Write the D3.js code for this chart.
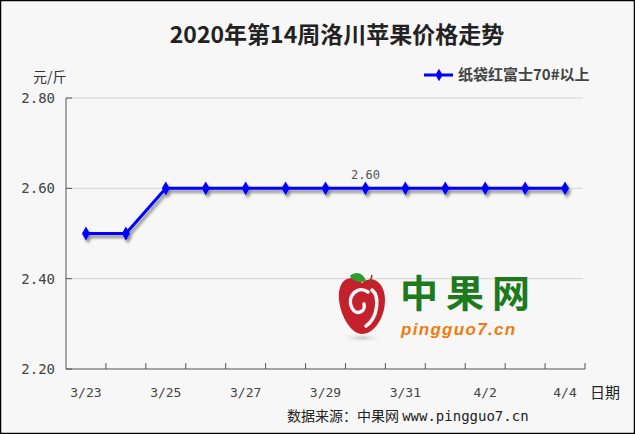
<!DOCTYPE html>
<html><head><meta charset="utf-8">
<script src="https://cdn.jsdelivr.net/npm/d3@7"></script>
<style>
html,body{margin:0;padding:0;background:#fff;}
svg{display:block;}
</style></head>
<body>
<svg id="c" width="635" height="434"></svg>
<script>
const categories = ["3/23","3/24","3/25","3/26","3/27","3/28","3/29","3/30","3/31","4/1","4/2","4/3","4/4"];
const values = [2.50,2.50,2.60,2.60,2.60,2.60,2.60,2.60,2.60,2.60,2.60,2.60,2.60];
const yTicks = [2.20,2.40,2.60,2.80];
const xLabels = ["3/23","3/25","3/27","3/29","3/31","4/2","4/4"];
const seriesName = "纸袋红富士70#以上";
const labelIndex = 7;

const W=635,H=434;
const svg=d3.select("#c");
const cjk='"Noto Sans CJK SC","Noto Sans",sans-serif';
const mono='"DejaVu Sans Mono","Liberation Mono",monospace';

const defs=svg.append("defs");
const f=defs.append("filter").attr("id","sh").attr("x","-10%").attr("y","-50%").attr("width","130%").attr("height","200%");
f.append("feGaussianBlur").attr("in","SourceAlpha").attr("stdDeviation",1.4).attr("result","b");
f.append("feOffset").attr("in","b").attr("dx",2).attr("dy",3).attr("result","o");
f.append("feComponentTransfer").attr("in","o").attr("result","o2").append("feFuncA").attr("type","linear").attr("slope",0.45);
const fm=f.append("feMerge");fm.append("feMergeNode").attr("in","o2");fm.append("feMergeNode").attr("in","SourceGraphic");
const rg=defs.append("radialGradient").attr("id","lg");
rg.append("stop").attr("offset","0%").attr("stop-color","#bbb").attr("stop-opacity",0.8);
rg.append("stop").attr("offset","100%").attr("stop-color","#f7f7f7").attr("stop-opacity",0);

svg.append("rect").attr("x",0.5).attr("y",0.5).attr("width",W-1).attr("height",H-1).attr("fill","#f7f7f7").attr("stroke","#000").attr("stroke-width",1.5);

const m={l:66,r:585,t:98,b:369};
const x=d3.scaleBand().domain(categories).range([m.l,m.r]);
const y=d3.scaleLinear().domain([2.2,2.8]).range([m.b,m.t]);

// title
svg.append("text").attr("x",337).attr("y",43).attr("text-anchor","middle").attr("font-family",cjk).attr("font-weight","bold").attr("font-size",23).attr("fill","#222").text("2020年第14周洛川苹果价格走势");

// gridlines
svg.append("g").selectAll("line").data(yTicks.filter(d=>d>2.2)).join("line")
 .attr("x1",m.l).attr("x2",583).attr("y1",d=>y(d)).attr("y2",d=>y(d)).attr("stroke","#d4d4d4").attr("stroke-width",1);

// watermark logo
const wm=svg.append("g");
wm.append("ellipse").attr("cx",362).attr("cy",338).attr("rx",22).attr("ry",5).attr("fill","url(#lg)");
wm.append("path").attr("d","M362,283 C350,272 337,280 339,300 C341,318 352,334 362,334 C374,334 385,318 385,300 C385,282 372,274 362,283 Z").attr("fill","#c4212d");
wm.append("path").attr("d","M368,292 C358,285 346,296 352,308 C356,316 366,312 364,304 M372,290 C380,296 378,318 366,326").attr("fill","none").attr("stroke","#f7f7f7").attr("stroke-width",3.5).attr("stroke-linecap","round");
wm.append("path").attr("d","M350,276 C356,270 364,274 366,281 C360,283 353,282 350,276 Z").attr("fill","#2f9a2f");
wm.append("line").attr("x1",370).attr("y1",283).attr("x2",372).attr("y2",275).attr("stroke","#7a4a20").attr("stroke-width",1.5);
wm.append("text").attr("x",400).attr("y",307).attr("font-family",cjk).attr("font-weight","bold").attr("font-size",38).attr("fill","#1d7a1d").attr("letter-spacing",8).text("中果网");
wm.append("text").attr("x",401).attr("y",335).attr("font-family","Liberation Sans, sans-serif").attr("font-style","italic").attr("font-weight","bold").attr("font-size",17).attr("fill","#f07b10").attr("letter-spacing",1.3).text("pingguo7.cn");

// axes
const ax=svg.append("g").attr("stroke","#555").attr("stroke-width",1);
ax.append("line").attr("x1",m.l).attr("x2",m.l).attr("y1",m.t).attr("y2",m.b);
ax.append("line").attr("x1",m.l).attr("x2",m.r).attr("y1",m.b).attr("y2",m.b);
ax.selectAll(".yt").data(yTicks).join("line").attr("x1",m.l).attr("x2",m.l+6).attr("y1",d=>y(d)).attr("y2",d=>y(d));
const bounds=categories.map(c=>x(c)+x.bandwidth());
ax.selectAll(".xt").data(bounds).join("line").attr("x1",d=>d).attr("x2",d=>d).attr("y1",m.b).attr("y2",m.b-6);

svg.append("g").selectAll("text").data(yTicks).join("text")
 .attr("x",55).attr("y",d=>y(d)+5).attr("text-anchor","end").attr("font-family",mono).attr("font-size",14).attr("fill","#444").text(d=>d.toFixed(2));
svg.append("g").selectAll("text").data(xLabels).join("text")
 .attr("x",d=>x(d)+x.bandwidth()/2).attr("y",397).attr("text-anchor","middle").attr("font-family",mono).attr("font-size",13).attr("fill","#444").text(d=>d);

svg.append("text").attr("x",33).attr("y",82).attr("font-family",cjk).attr("font-size",14).attr("fill","#333").text("元/斤");
svg.append("text").attr("x",590).attr("y",398).attr("font-family",cjk).attr("font-size",15).attr("fill","#222").text("日期");
const src=svg.append("text").attr("x",287).attr("y",421).attr("font-size",14).attr("fill","#222");
src.append("tspan").attr("font-family",cjk).text("数据来源：中果网 ");
src.append("tspan").attr("font-family",mono).text("www.pingguo7.cn");

// series
const cx=c=>x(c)+x.bandwidth()/2;
const g=svg.append("g").attr("filter","url(#sh)");
g.append("path").datum(values).attr("fill","none").attr("stroke","#0000ff").attr("stroke-width",3)
 .attr("d",d3.line().x((d,i)=>cx(categories[i])).y(d=>y(d)));
const dia=d3.symbol().type(d3.symbolDiamond).size(55);
g.selectAll(".pt").data(values).join("path").attr("d",dia)
 .attr("transform",(d,i)=>`translate(${cx(categories[i])},${y(d)})`).attr("fill","#0000ff");

svg.append("text").attr("x",cx(categories[labelIndex])).attr("y",y(values[labelIndex])-9).attr("text-anchor","middle").attr("font-family",mono).attr("font-size",12).attr("fill","#555").text(values[labelIndex].toFixed(2));

// legend
const lg=svg.append("g");
lg.append("line").attr("x1",424).attr("x2",453).attr("y1",75).attr("y2",75).attr("stroke","#0000ff").attr("stroke-width",3);
lg.append("path").attr("d",d3.symbol().type(d3.symbolDiamond).size(45)).attr("transform","translate(439,75)").attr("fill","#0000ff");
lg.append("text").attr("x",458).attr("y",80).attr("font-family",cjk).attr("font-weight","bold").attr("font-size",15).attr("fill","#444").text(seriesName);
</script>
</body></html>
